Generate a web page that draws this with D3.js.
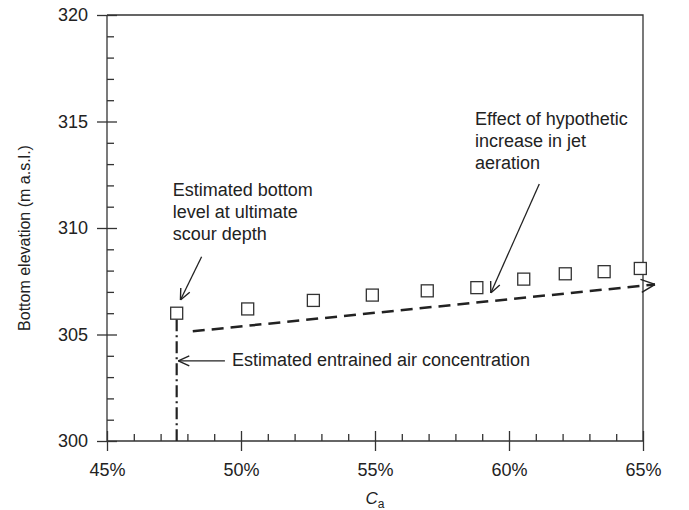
<!DOCTYPE html>
<html>
<head>
<meta charset="utf-8">
<script src="https://cdn.jsdelivr.net/npm/d3@7"></script>
<style>
  body { margin: 0; background: #fff; }
  svg text { font-family: "Liberation Sans", Arial, sans-serif; fill: #222; }
</style>
</head>
<body>
<svg id="chart" width="689" height="510"></svg>
<script>
// données
const ca = [47.6, 50.25, 52.7, 54.9, 56.95, 58.8, 60.55, 62.1, 63.55, 64.9]
const elevation = [306.0, 306.2, 306.6, 306.85, 307.05, 307.2, 307.6, 307.85, 307.95, 308.1]
const xMajor = [45, 50, 55, 60, 65]
const yMajor = [300, 305, 310, 315, 320]
const airConc = 47.6
const trend = [[48.2, 305.15], [65.45, 307.35]]

const margin = { top: 15, left: 107 }
const w = 536, h = 426
const ink = '#333'

const svg = d3.select('#chart')
const g = svg.append('g').attr('transform', `translate(${margin.left},${margin.top})`)

const x = d3.scaleLinear().domain([45, 65]).range([0, w])
const y = d3.scaleLinear().domain([300, 320]).range([h, 0])

// flèches ouvertes
const defs = svg.append('defs')
function marker(id, len, half) {
  defs.append('marker')
    .attr('id', id)
    .attr('markerUnits', 'userSpaceOnUse')
    .attr('viewBox', `0 0 ${len} ${half * 2}`)
    .attr('refX', len).attr('refY', half)
    .attr('markerWidth', len).attr('markerHeight', half * 2)
    .attr('orient', 'auto')
    .append('path')
    .attr('d', `M1,1 L${len},${half} L1,${half * 2 - 1}`)
    .attr('fill', 'none').attr('stroke', '#222').attr('stroke-width', 1.4)
}
marker('head', 12, 6)
marker('headBig', 15, 7.5)

// axes
const xMinor = d3.range(45, 65.01, 1).filter(v => !xMajor.includes(v))
const yMinor = d3.range(300, 320.01, 1).filter(v => !yMajor.includes(v))

const gx = g.append('g').attr('transform', `translate(0,${h})`)
  .call(d3.axisBottom(x).tickValues(xMajor).tickSize(10).tickPadding(12).tickFormat(d => d + '%'))
gx.selectAll('.tick line').attr('y1', -10)
g.append('g').attr('transform', `translate(0,${h})`)
  .call(d3.axisTop(x).tickValues(xMinor).tickSize(7).tickFormat(''))
  .select('.domain').remove()

const gy = g.append('g')
  .call(d3.axisLeft(y).tickValues(yMajor).tickSize(10).tickPadding(9))
gy.selectAll('.tick line').attr('x1', 10)
g.append('g')
  .call(d3.axisRight(y).tickValues(yMinor).tickSize(7).tickFormat(''))
  .select('.domain').remove()

g.selectAll('.domain').attr('stroke', ink).attr('stroke-width', 1.3)
g.selectAll('.tick line').attr('stroke', ink).attr('stroke-width', 1.3)
g.selectAll('.tick text').attr('font-size', 18).attr('fill', '#222')
gx.select('.domain').attr('d', `M0,0H${w}`)
gy.select('.domain').attr('d', `M0,0V${h}`)

// cadre haut et droit
g.append('path')
  .attr('d', `M0,0H${w}V${h}`)
  .attr('fill', 'none').attr('stroke', ink).attr('stroke-width', 1.3)

// titres d'axes
svg.append('text')
  .attr('transform', `translate(30,238) rotate(-90)`)
  .attr('text-anchor', 'middle').attr('font-size', 16)
  .text('Bottom elevation (m a.s.l.)')
const xt = svg.append('text')
  .attr('x', margin.left + w / 2).attr('y', 504)
  .attr('text-anchor', 'middle').attr('font-size', 17)
xt.append('tspan').attr('font-style', 'italic').text('C')
xt.append('tspan').attr('font-size', 12).attr('dy', 4).text('a')

// ligne verticale tiret-point
g.append('line')
  .attr('x1', x(airConc)).attr('x2', x(airConc))
  .attr('y1', y(elevation[0]) + 6).attr('y2', h)
  .attr('stroke', '#222').attr('stroke-width', 2.2)
  .attr('stroke-dasharray', '12,4,2,4')

// tendance en tirets
g.append('line')
  .attr('x1', x(trend[0][0])).attr('y1', y(trend[0][1]))
  .attr('x2', x(trend[1][0])).attr('y2', y(trend[1][1]))
  .attr('stroke', '#222').attr('stroke-width', 2.5)
  .attr('stroke-dasharray', '12,7')
  .attr('marker-end', 'url(#headBig)')

// points
g.selectAll('rect.pt')
  .data(ca.map((c, i) => [c, elevation[i]]))
  .enter()
  .append('rect')
  .attr('class', 'pt')
  .attr('x', d => x(d[0]) - 6).attr('y', d => y(d[1]) - 6)
  .attr('width', 12).attr('height', 12)
  .attr('fill', '#fff').attr('stroke', ink).attr('stroke-width', 1.3)

// annotations
const notes = [
  { lines: ['Estimated bottom', 'level at ultimate', 'scour depth'], at: [47.45, 311.5], from: [48.53, 308.65], to: [47.74, 306.62] },
  { lines: ['Effect of hypothetic', 'increase in jet', 'aeration'], at: [58.73, 314.84], from: [61.13, 312.07], to: [59.32, 306.95] },
  { lines: ['Estimated entrained air concentration'], at: [49.66, 303.5], from: [49.4, 303.76], to: [47.66, 303.76] }
]
notes.forEach(n => {
  const t = g.append('text')
    .attr('x', x(n.at[0])).attr('y', y(n.at[1])).attr('font-size', 18)
  n.lines.forEach((l, i) => {
    t.append('tspan').attr('x', x(n.at[0])).attr('dy', i ? 22 : 0).text(l)
  })
  g.append('line')
    .attr('x1', x(n.from[0])).attr('y1', y(n.from[1]))
    .attr('x2', x(n.to[0])).attr('y2', y(n.to[1]))
    .attr('stroke', '#222').attr('stroke-width', 1.3)
    .attr('marker-end', 'url(#head)')
})
</script>
</body>
</html>
